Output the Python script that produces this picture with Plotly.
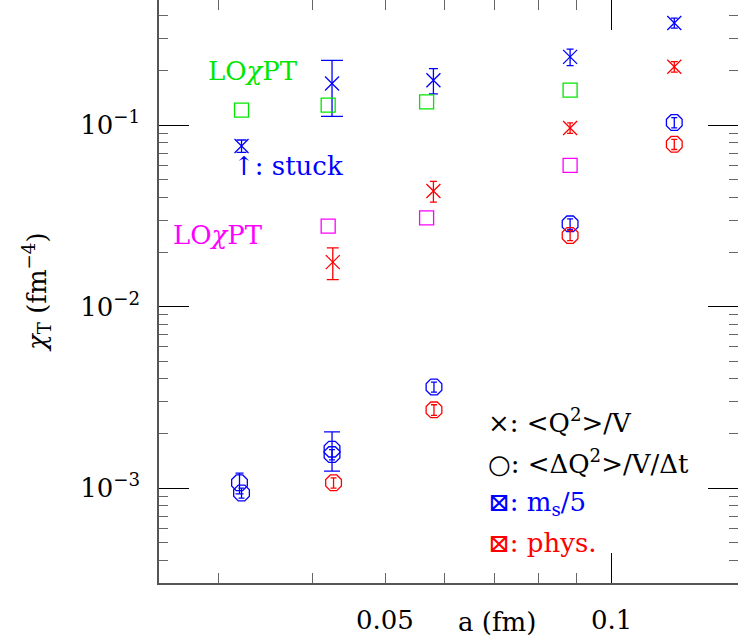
import numpy as np
import plotly.graph_objects as go

# ---------------- data ----------------
# <Q^2>/V, m_s/5 ensembles (blue x)
a_ms5_Q2 = [0.0322, 0.0425, 0.0580, 0.0882, 0.1214]
chi_ms5_Q2 = [0.0769, 0.170, 0.177, 0.238, 0.366]
err_ms5_Q2 = [0.006, 0.058, 0.028, 0.025, 0.023]

# <Q^2>/V, physical ensembles (red x)
a_phys_Q2 = [0.0426, 0.0580, 0.0882, 0.1214]
chi_phys_Q2 = [0.0176, 0.0434, 0.0966, 0.210]
err_phys_Q2 = [0.0035, 0.0057, 0.0065, 0.014]

# <dQ^2>/V/dt, m_s/5 ensembles (blue octagons)
a_ms5_dQ2 = [0.0320, 0.0322, 0.0425, 0.0425, 0.0581, 0.0882, 0.1214]
chi_ms5_dQ2 = [0.00107, 0.00094, 0.00164, 0.00153, 0.00361, 0.0286, 0.1035]
err_ms5_dQ2 = [0.00014, 0.00006, 0.0004, 0.0001, 0.00023, 0.0019, 0.0067]

# <dQ^2>/V/dt, physical ensembles (red octagons)
a_phys_dQ2 = [0.0427, 0.0581, 0.0882, 0.1214]
chi_phys_dQ2 = [0.00107, 0.0027, 0.0247, 0.0785]
err_phys_dQ2 = [0.00007, 0.00018, 0.0016, 0.005]

# leading-order chiral PT (squares)
a_ms5_LO = [0.0322, 0.0420, 0.0568, 0.0882]
chi_ms5_LO = [0.121, 0.129, 0.1346, 0.156]
a_phys_LO = [0.0420, 0.0568, 0.0882]
chi_phys_LO = [0.0278, 0.0309, 0.0601]

# axis ticks
x_minor_ticks = [0.03, 0.04, 0.05, 0.06, 0.07, 0.08, 0.09]
x_major_ticks = [0.1]
x_tick_labels = ["0.05", "0.1"]
x_label_vals = [0.05, 0.1]
y_major_ticks = [1e-3, 1e-2, 1e-1]
y_tick_labels = ["10<sup>\u22123</sup>", "10<sup>\u22122</sup>", "10<sup>\u22121</sup>"]
y_minor_ticks = [m * d for d in (1e-4, 1e-3, 1e-2, 1e-1) for m in range(2, 10)
                 if 3.0e-4 < m * d < 0.49]

# ---------------- styles ----------------
BLUE = "#0000ff"
RED = "#ff0000"
GREEN = "#00e600"
MAGENTA = "#ff00ff"
FONT = "DejaVu Serif"
FS = 26
CHI = "<i>\u03c7</i>"

cap_ms5_Q2 = [5, 11, 4.5, 3.5, 3.5]
cap_phys_Q2 = [6, 3.5, 3, 3.5]
cap_ms5_dQ2 = [4, 3, 8, 3, 3, 3, 3]
cap_phys_dQ2 = [3, 3, 3, 3]

fig = go.Figure()


def add_points(xs, ys, errs, caps, symbol, size, color):
    for i in range(len(xs)):
        fig.add_trace(go.Scatter(
            x=[xs[i]], y=[ys[i]], mode="markers", showlegend=False,
            marker=dict(symbol=symbol, size=size, color=color,
                        line=dict(color=color, width=1.3)),
            error_y=dict(type="data", array=[errs[i]], visible=True,
                         color=color, thickness=1.3, width=caps[i]),
        ))


add_points(a_ms5_Q2, chi_ms5_Q2, err_ms5_Q2, cap_ms5_Q2, "x-thin-open", 14, BLUE)
add_points(a_phys_Q2, chi_phys_Q2, err_phys_Q2, cap_phys_Q2, "x-thin-open", 14, RED)
add_points(a_ms5_dQ2, chi_ms5_dQ2, err_ms5_dQ2, cap_ms5_dQ2, "octagon-open", 17, BLUE)
add_points(a_phys_dQ2, chi_phys_dQ2, err_phys_dQ2, cap_phys_dQ2, "octagon-open", 17, RED)

fig.add_trace(go.Scatter(x=a_ms5_LO, y=chi_ms5_LO, mode="markers", showlegend=False,
                         marker=dict(symbol="square-open", size=14, color=GREEN,
                                     line=dict(color=GREEN, width=1.3))))
fig.add_trace(go.Scatter(x=a_phys_LO, y=chi_phys_LO, mode="markers", showlegend=False,
                         marker=dict(symbol="square-open", size=14, color=MAGENTA,
                                     line=dict(color=MAGENTA, width=1.3))))

# empty trace to create the mirror (top/right) tick axes
fig.add_trace(go.Scatter(x=[], y=[], xaxis="x2", yaxis="y2", showlegend=False))

xr = [np.log10(0.025), np.log10(0.1476)]
yr = [np.log10(3.0e-4), np.log10(0.49)]

common_x = dict(type="log", range=xr, showgrid=False, zeroline=False,
                tickmode="array", tickvals=x_major_ticks, ticks="inside", ticklen=30,
                tickwidth=1, tickcolor="black",
                minor=dict(tickmode="array", tickvals=x_minor_ticks, ticks="inside",
                           ticklen=10, tickwidth=1.3, tickcolor="#666666", showgrid=False),
                showticklabels=False)
common_y = dict(type="log", range=yr, showgrid=False, zeroline=False,
                tickmode="array", tickvals=y_major_ticks, ticks="inside", ticklen=30,
                tickwidth=1, tickcolor="black",
                minor=dict(tickmode="array", tickvals=y_minor_ticks, ticks="inside",
                           ticklen=9, tickwidth=1.3, tickcolor="#666666", showgrid=False))

fig.update_layout(
    width=738, height=643, autosize=False,
    margin=dict(l=159, r=0, t=0, b=60, pad=0),
    paper_bgcolor="white", plot_bgcolor="white",
    font=dict(family=FONT, size=FS, color="black"),
    xaxis=dict(**common_x, showline=True, linecolor="#555555", linewidth=1.5, anchor="y"),
    yaxis=dict(**common_y, showline=True, linecolor="#555555", linewidth=1.5, anchor="x",
               ticktext=y_tick_labels, showticklabels=True, ticklabelstandoff=12,
               tickfont=dict(family=FONT, size=FS, color="black")),
    xaxis2=dict(**common_x, overlaying="x", side="top", anchor="y2", showline=False),
    yaxis2=dict(**common_y, overlaying="y", side="right", anchor="x2", showline=False,
                showticklabels=False),
)

PW, PH, L0 = 579.0, 583.0, 159.0


def px(xp):
    return (xp - L0) / PW


def py(yp):
    return 1 - yp / PH


ann = []
for v, t in zip(x_label_vals, x_tick_labels):
    ann.append(dict(x=np.log10(v), xref="x", y=py(620), yref="paper", text=t,
                    showarrow=False, xanchor="center", yanchor="middle"))
ann += [
    dict(x=px(497), y=py(622), text="a (fm)", xanchor="center"),
    dict(x=px(36), y=py(292), text=CHI + "<sub>T</sub> (fm<sup>\u22124</sup>)",
         textangle=-90, xanchor="center", yanchor="middle"),
    dict(x=px(253), y=py(71), text="LO" + CHI + "PT", font=dict(color=GREEN, family=FONT, size=FS)),
    dict(x=px(231), y=py(166), text="\u2191: stuck", xanchor="left",
         font=dict(color=BLUE, family=FONT, size=FS)),
    dict(x=px(218), y=py(235), text="LO" + CHI + "PT", font=dict(color=MAGENTA, family=FONT, size=FS)),
    dict(x=px(486), y=py(421), text="\u00d7: &lt;Q<sup>2</sup>&gt;/V", xanchor="left"),
    dict(x=px(486), y=py(462), text="\u25cb: &lt;\u0394Q<sup>2</sup>&gt;/V/\u0394t", xanchor="left"),
    dict(x=px(486), y=py(503), text="\u22a0: m<sub>s</sub>/5", xanchor="left",
         font=dict(color=BLUE, family=FONT, size=FS)),
    dict(x=px(486), y=py(543), text="\u22a0: phys.", xanchor="left",
         font=dict(color=RED, family=FONT, size=FS)),
]
for a in ann:
    a.setdefault("xref", "paper")
    a.setdefault("yref", "paper")
    a.setdefault("showarrow", False)
    a.setdefault("yanchor", "middle")
    a.setdefault("xanchor", "center")
fig.update_layout(annotations=ann)

fig.write_html(
    "out.html",
    config={"displayModeBar": False},
    post_script="document.body.style.margin='0';document.documentElement.style.overflow='hidden';",
)
